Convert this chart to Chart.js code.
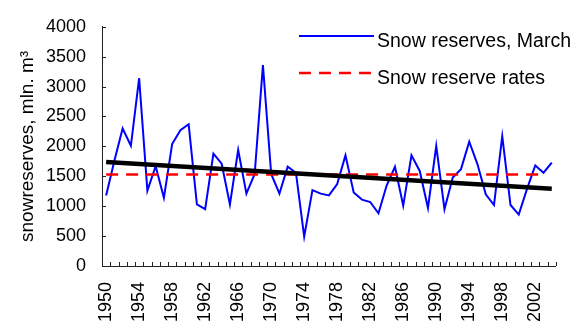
<!DOCTYPE html>
<html>
<head>
<meta charset="utf-8">
<title>Snow reserves</title>
<script src="https://cdn.jsdelivr.net/npm/chart.js@4"></script>
<style>
    html, body { margin: 0; padding: 0; background: #fff; }
    #wrap { width: 573px; height: 323px; position: relative; }
</style>
</head>
<body>
<div id="wrap"><canvas id="myChart"></canvas></div>
<script>
// years on the x axis
const firstYear = 1950;
const lastYear = 2004;
const years = Array.from({ length: lastYear - firstYear + 1 }, (_, i) => firstYear + i);

// March snow reserves, mln. m3
const snowReserves = [
    1180, 1760, 2300, 2010, 3140, 1260, 1670, 1140, 2040, 2270,
    2370, 1030, 950, 1880, 1710, 1030, 1940, 1210, 1540, 3360,
    1540, 1210, 1660, 1560, 490, 1270, 1210, 1180, 1370, 1850,
    1230, 1110, 1070, 880, 1350, 1660, 1010, 1850, 1590, 970,
    2010, 950, 1480, 1620, 2080, 1700, 1200, 1020, 2170, 1020,
    860, 1290, 1680, 1560, 1730
];

// reserve rate line and trend line end points
const rateYears = [1950, 2003];
const rateValues = [1530, 1530];
const trendYears = [1950, 2004];
const trendValues = [1740, 1290];

// tick labels
const xTickYears = [1950, 1954, 1958, 1962, 1966, 1970, 1974, 1978, 1982, 1986, 1990, 1994, 1998, 2002];
const yTicks = [0, 500, 1000, 1500, 2000, 2500, 3000, 3500, 4000];

const FONT = "'Liberation Sans', Arial, sans-serif";

// small tick marks pointing into the plot
const innerTicks = {
    id: 'innerTicks',
    afterDraw(chart) {
        const { ctx, chartArea, scales } = chart;
        ctx.save();
        ctx.strokeStyle = '#222';
        ctx.lineWidth = 1;
        ctx.beginPath();
        scales.y.ticks.forEach(t => {
            const py = Math.round(scales.y.getPixelForValue(t.value)) + 0.5;
            ctx.moveTo(chartArea.left, py);
            ctx.lineTo(chartArea.left + 4, py);
        });
        for (let k = 0; k <= years.length; k++) {
            const px = Math.round(scales.x.getPixelForValue(firstYear - 0.5 + k)) + 0.5;
            ctx.moveTo(px, chartArea.bottom);
            ctx.lineTo(px, chartArea.bottom - 4);
        }
        ctx.stroke();
        ctx.restore();
    }
};

// legend in the upper right corner, no frame
const cornerLegend = {
    id: 'cornerLegend',
    afterDraw(chart) {
        const { ctx } = chart;
        const rows = chart.data.datasets.filter(d => d.legendText);
        ctx.save();
        ctx.font = '19.5px ' + FONT;
        ctx.fillStyle = '#000';
        ctx.textBaseline = 'middle';
        rows.forEach((d, i) => {
            const ly = 36 + i * 37;
            ctx.beginPath();
            ctx.strokeStyle = d.borderColor;
            ctx.lineWidth = d.borderWidth;
            ctx.setLineDash(d.borderDash || []);
            ctx.moveTo(299, ly);
            ctx.lineTo(374, ly);
            ctx.stroke();
            ctx.setLineDash([]);
            ctx.fillText(d.legendText, 377, ly + 6);
        });
        ctx.restore();
    }
};

const ctx = document.getElementById('myChart');
new Chart(ctx, {
    type: 'line',
    data: {
        datasets: [{
            legendText: 'Snow reserves, March',
            data: years.map((yr, i) => ({ x: yr, y: snowReserves[i] })),
            borderColor: '#0000ff',
            borderWidth: 2,
            pointRadius: 0,
            tension: 0,
            order: 3
        }, {
            legendText: 'Snow reserve rates',
            data: rateYears.map((yr, i) => ({ x: yr, y: rateValues[i] })),
            borderColor: '#ff0000',
            borderWidth: 2.5,
            borderDash: [12, 8],
            pointRadius: 0,
            order: 2
        }, {
            data: trendYears.map((yr, i) => ({ x: yr, y: trendValues[i] })),
            borderColor: '#000000',
            borderWidth: 4.5,
            pointRadius: 0,
            order: 1
        }]
    },
    options: {
        responsive: true,
        maintainAspectRatio: false,
        animation: false,
        devicePixelRatio: 1,
        layout: { padding: { top: 21, right: 3, left: 0, bottom: 0 } },
        plugins: {
            legend: { display: false },
            tooltip: { enabled: false }
        },
        scales: {
            x: {
                type: 'linear',
                min: firstYear - 0.5,
                max: lastYear + 0.5,
                afterBuildTicks(scale) {
                    scale.ticks = xTickYears.map(v => ({ value: v }));
                },
                afterFit(scale) { scale.height = 57; },
                grid: { display: false, drawTicks: false },
                border: { display: true, color: '#222', width: 1 },
                ticks: {
                    minRotation: 90,
                    maxRotation: 90,
                    autoSkip: false,
                    padding: 16,
                    color: '#000',
                    font: { family: FONT, size: 18 },
                    callback: v => String(v)
                }
            },
            y: {
                min: 0,
                max: 4000,
                afterBuildTicks(scale) {
                    scale.ticks = yTicks.map(v => ({ value: v }));
                },
                afterFit(scale) { scale.width = 102; },
                grid: { display: false, drawTicks: false },
                border: { display: true, color: '#222', width: 1 },
                ticks: {
                    padding: 16,
                    color: '#000',
                    font: { family: FONT, size: 18 },
                    callback: v => String(v)
                },
                title: {
                    display: true,
                    text: 'snowreserves, mln. m³',
                    color: '#000',
                    font: { family: FONT, size: 19 },
                    padding: { top: 16, bottom: 0 }
                }
            }
        }
    },
    plugins: [innerTicks, cornerLegend]
});
</script>
</body>
</html>
